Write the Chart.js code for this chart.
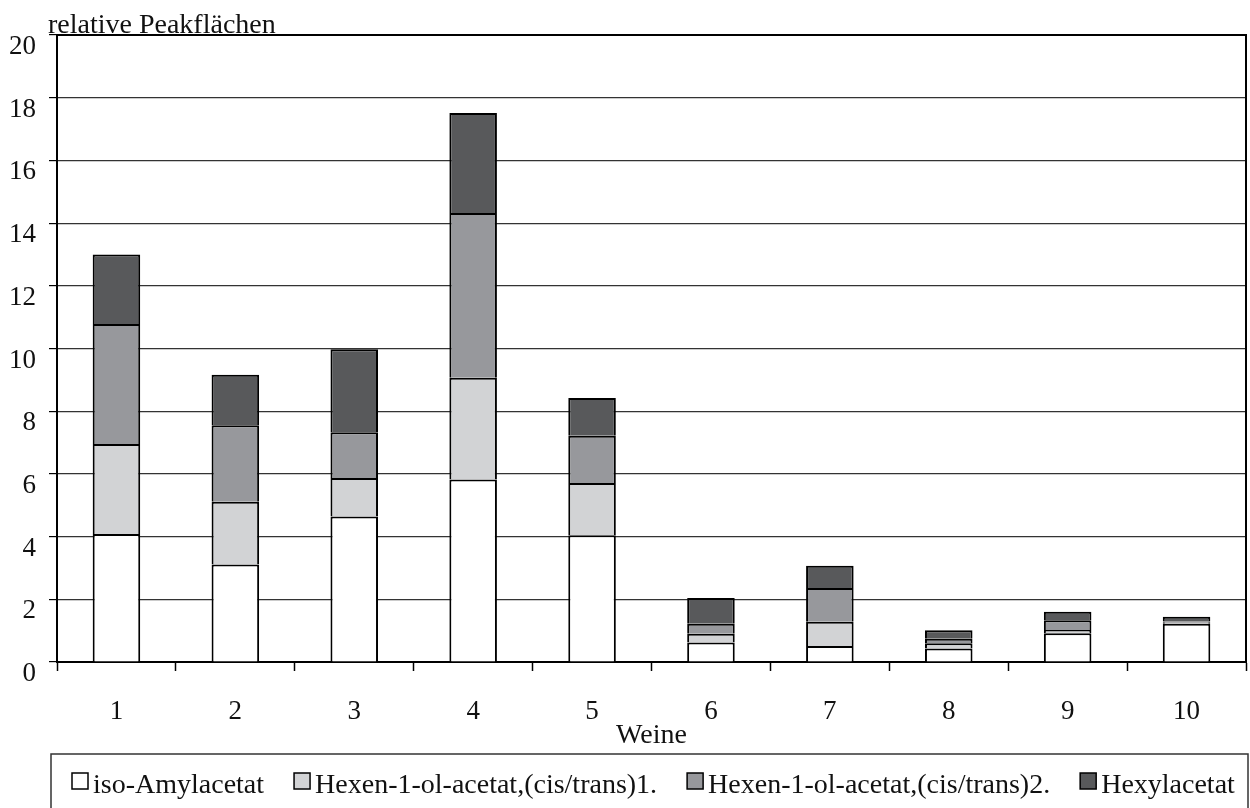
<!DOCTYPE html>
<html>
<head>
<meta charset="utf-8">
<title>relative Peakflächen</title>
<script src="https://cdn.jsdelivr.net/npm/chart.js@4/dist/chart.umd.min.js"></script>
<style>
    body { margin: 0; background: #fff; }
    #wrap { width: 1250px; height: 808px; }
</style>
</head>
<body>
<div id="wrap"><canvas id="myChart" width="1250" height="808"></canvas></div>
<script>
"use strict"

// data
let weine = ['1', '2', '3', '4', '5', '6', '7', '8', '9', '10'];
let isoAmylacetat = [4.08, 3.11, 4.64, 5.82, 4.04, 0.62, 0.51, 0.43, 0.92, 1.22];
let hexenol1 = [2.87, 2.00, 1.23, 3.25, 1.67, 0.28, 0.77, 0.17, 0.10, 0.03];
let hexenol2 = [3.83, 2.44, 1.46, 5.25, 1.51, 0.32, 1.08, 0.14, 0.31, 0.04];
let hexylacetat = [2.22, 1.61, 2.65, 3.19, 1.20, 0.82, 0.71, 0.27, 0.27, 0.15];

let seriesNames = ['iso-Amylacetat', 'Hexen-1-ol-acetat,(cis/trans)1.', 'Hexen-1-ol-acetat,(cis/trans)2.', 'Hexylacetat'];
let seriesColors = ['#ffffff', '#d2d3d5', '#97989c', '#58595b'];
let yTitle = 'relative Peakflächen';
let xTitle = 'Weine';

let serif = "'Liberation Serif', 'Times New Roman', serif";
let textColor = '#111';

// --------------------------------------------------------------------------------
// frame on the right side of the plot + the unit label top left
let framePlugin = {
    id: 'frame',
    afterDraw(chart) {
        let ctx = chart.ctx;
        let area = chart.chartArea;
        ctx.save();
        ctx.strokeStyle = '#000';
        ctx.lineWidth = 2;
        ctx.beginPath();
        ctx.moveTo(area.left, area.top);
        ctx.lineTo(area.right, area.top);
        ctx.lineTo(area.right, area.bottom);
        ctx.stroke();

        ctx.fillStyle = textColor;
        ctx.font = '28px ' + serif;
        ctx.textBaseline = 'alphabetic';
        ctx.textAlign = 'left';
        ctx.fillText(yTitle, area.left - 9, area.top - 2);
        ctx.restore();
    }
};

// legend in a box under the axis, left aligned
let legendBoxPlugin = {
    id: 'legendBox',
    afterDraw(chart) {
        let ctx = chart.ctx;
        let top = chart.scales.x.bottom;
        ctx.save();
        ctx.strokeStyle = '#333';
        ctx.lineWidth = 1.5;
        ctx.strokeRect(51, top, 1197, 80);

        ctx.font = '28px ' + serif;
        ctx.textBaseline = 'alphabetic';
        ctx.textAlign = 'left';
        let x = 72;
        let boxTop = top + 19;
        chart.data.datasets.forEach(function(ds) {
            ctx.fillStyle = ds.backgroundColor;
            ctx.fillRect(x, boxTop, 16, 16);
            ctx.strokeStyle = '#000';
            ctx.lineWidth = 1.5;
            ctx.strokeRect(x, boxTop, 16, 16);
            ctx.fillStyle = textColor;
            ctx.fillText(ds.label, x + 21, top + 39);
            x += 21 + ctx.measureText(ds.label).width + 30;
        });
        ctx.restore();
    }
};

// --------------------------------------------------------------------------------
let series = [isoAmylacetat, hexenol1, hexenol2, hexylacetat];
let datasets = [];
for (let i = 0; i < series.length; i++) {
    datasets.push({
        label: seriesNames[i],
        data: series[i],
        backgroundColor: seriesColors[i],
        borderColor: '#000',
        borderWidth: 2,
        barPercentage: 0.4,
        categoryPercentage: 1
    });
}

let ctx = document.getElementById('myChart').getContext('2d');
let myChart = new Chart(ctx, {
    type: 'bar',
    data: {
        labels: weine,
        datasets: datasets
    },
    options: {
        responsive: false,
        animation: false,
        devicePixelRatio: 1,
        layout: {
            padding: { top: 35, right: 4, left: 0, bottom: 54 }
        },
        plugins: {
            legend: { display: false },
            tooltip: { enabled: false }
        },
        scales: {
            x: {
                stacked: true,
                afterFit: function(scale) { scale.height = 92; },
                grid: {
                    offset: true,
                    drawOnChartArea: false,
                    drawTicks: true,
                    tickLength: 9,
                    tickColor: '#000',
                    tickWidth: 1.5
                },
                border: { color: '#000', width: 2 },
                ticks: {
                    color: textColor,
                    padding: 25,
                    maxRotation: 0,
                    font: { family: serif, size: 27 }
                },
                title: {
                    display: true,
                    text: xTitle,
                    color: textColor,
                    padding: { top: 0, bottom: 2 },
                    font: { family: serif, size: 28 }
                }
            },
            y: {
                stacked: true,
                min: 0,
                max: 20,
                afterFit: function(scale) { scale.width = 57; },
                grid: {
                    color: '#333',
                    lineWidth: 1.2,
                    drawTicks: true,
                    tickLength: 8,
                    tickColor: '#000'
                },
                border: { color: '#000', width: 2 },
                ticks: {
                    stepSize: 2,
                    color: textColor,
                    padding: 13,
                    labelOffset: 12,
                    font: { family: serif, size: 27 }
                }
            }
        }
    },
    plugins: [framePlugin, legendBoxPlugin]
});
</script>
</body>
</html>
